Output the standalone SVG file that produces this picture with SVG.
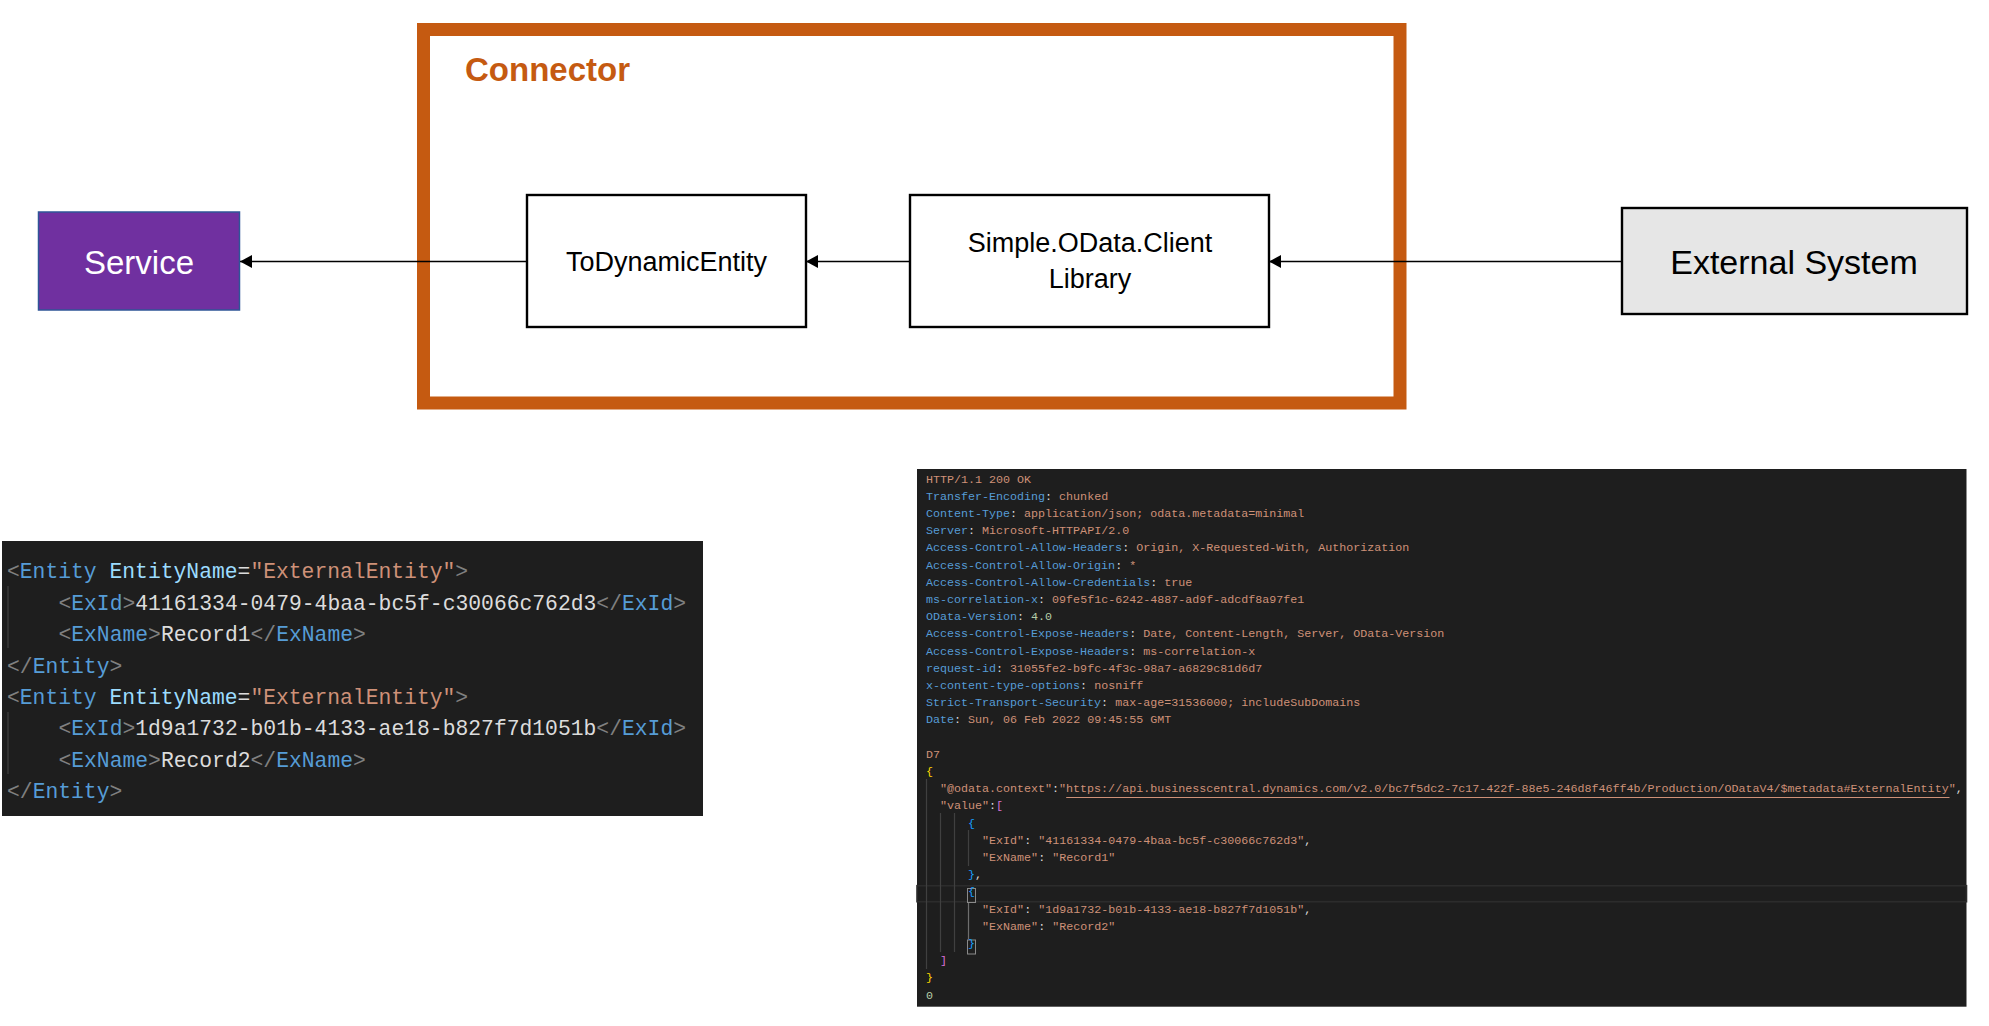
<svg xmlns="http://www.w3.org/2000/svg" width="1989" height="1026" viewBox="0 0 1989 1026">
<defs>
<marker id="ah" markerUnits="userSpaceOnUse" markerWidth="12" markerHeight="13" refX="12" refY="6.5" orient="auto">
<path d="M0,0 L12,6.5 L0,13 Z" fill="#000"/>
</marker>
<style>
.lbl{font-family:"Liberation Sans",Arial,sans-serif;text-anchor:middle;fill:#000}
.box{fill:#fff;stroke:#000;stroke-width:2.4}
.conn{stroke:#000;stroke-width:1.3;fill:none;marker-end:url(#ah)}
.code{font-family:"Liberation Mono","Courier New",monospace}
.x{font-size:21.35px}
.h{font-size:11.68px}
.g{fill:#808080}
.b{fill:#569CD6}
.lb{fill:#9CDCFE}
.w{fill:#DCDCDC}
.o{fill:#CE9178}
.n{fill:#B5CEA8}
.y1{fill:#FFD700}
.p1{fill:#DA70D6}
.c1{fill:#179FFF}
.guide{stroke:#404040;stroke-width:1.2}
</style>
</defs>
<rect width="1989" height="1026" fill="#fff"/>

<g id="connector">
<rect x="423.5" y="29.5" width="976.5" height="373.5" fill="none" stroke="#C55A11" stroke-width="13"/>
<text x="465" y="81" font-family="'Liberation Sans',Arial,sans-serif" font-weight="bold" font-size="33" fill="#C55A11">Connector</text>
</g>

<g id="service">
<rect x="38.5" y="212" width="201" height="98" fill="#7030A0" stroke="#2F5597" stroke-width="1.5"/>
<text class="lbl" x="139" y="274" font-size="33" style="fill:#fff">Service</text>
</g>

<g id="todynamicentity">
<rect class="box" x="527" y="195" width="279" height="132"/>
<text class="lbl" x="666.5" y="271" font-size="27">ToDynamicEntity</text>
</g>

<g id="simpleodata">
<rect class="box" x="910" y="195" width="359" height="132"/>
<text class="lbl" x="1090" y="252" font-size="27">Simple.OData.Client</text>
<text class="lbl" x="1090" y="288" font-size="27">Library</text>
</g>

<g id="external">
<rect x="1622" y="208" width="345" height="106" fill="#E6E6E6" stroke="#000" stroke-width="2.4"/>
<text class="lbl" x="1794" y="274" font-size="34">External System</text>
</g>

<g id="connectors">
<line class="conn" x1="527" y1="261.5" x2="240" y2="261.5"/>
<line class="conn" x1="910" y1="261.5" x2="806" y2="261.5"/>
<line class="conn" x1="1621" y1="261.5" x2="1269" y2="261.5"/>
</g>

<g id="xml-panel">
<rect x="2" y="541" width="701" height="275" fill="#1E1E1E"/>
<line class="guide" x1="8" y1="586" x2="8" y2="648"/>
<line class="guide" x1="8" y1="712" x2="8" y2="774"/>
<g class="code x">
<text x="7" y="578.3"><tspan class="g">&lt;</tspan><tspan class="b">Entity</tspan> <tspan class="lb">EntityName</tspan><tspan class="w">=</tspan><tspan class="o">"ExternalEntity"</tspan><tspan class="g">&gt;</tspan></text>
<text x="58.4" y="609.7"><tspan class="g">&lt;</tspan><tspan class="b">ExId</tspan><tspan class="g">&gt;</tspan><tspan class="w">41161334-0479-4baa-bc5f-c30066c762d3</tspan><tspan class="g">&lt;/</tspan><tspan class="b">ExId</tspan><tspan class="g">&gt;</tspan></text>
<text x="58.4" y="641.1"><tspan class="g">&lt;</tspan><tspan class="b">ExName</tspan><tspan class="g">&gt;</tspan><tspan class="w">Record1</tspan><tspan class="g">&lt;/</tspan><tspan class="b">ExName</tspan><tspan class="g">&gt;</tspan></text>
<text x="7" y="672.5"><tspan class="g">&lt;/</tspan><tspan class="b">Entity</tspan><tspan class="g">&gt;</tspan></text>
<text x="7" y="703.9"><tspan class="g">&lt;</tspan><tspan class="b">Entity</tspan> <tspan class="lb">EntityName</tspan><tspan class="w">=</tspan><tspan class="o">"ExternalEntity"</tspan><tspan class="g">&gt;</tspan></text>
<text x="58.4" y="735.3"><tspan class="g">&lt;</tspan><tspan class="b">ExId</tspan><tspan class="g">&gt;</tspan><tspan class="w">1d9a1732-b01b-4133-ae18-b827f7d1051b</tspan><tspan class="g">&lt;/</tspan><tspan class="b">ExId</tspan><tspan class="g">&gt;</tspan></text>
<text x="58.4" y="766.7"><tspan class="g">&lt;</tspan><tspan class="b">ExName</tspan><tspan class="g">&gt;</tspan><tspan class="w">Record2</tspan><tspan class="g">&lt;/</tspan><tspan class="b">ExName</tspan><tspan class="g">&gt;</tspan></text>
<text x="7" y="798.1"><tspan class="g">&lt;/</tspan><tspan class="b">Entity</tspan><tspan class="g">&gt;</tspan></text>
</g>
</g>

<g id="http-panel">
<rect x="917" y="469" width="1049.5" height="537.7" fill="#1E1E1E"/>
<rect x="917" y="885.7" width="1049.5" height="16" fill="#1E1E1E" stroke="#2C2C2C" stroke-width="1.6"/>
<line class="guide" x1="926.5" y1="779" x2="926.5" y2="969"/>
<line class="guide" x1="940.5" y1="813" x2="940.5" y2="952"/>
<line class="guide" x1="954.5" y1="813" x2="954.5" y2="952"/>
<line class="guide" x1="968.5" y1="830" x2="968.5" y2="866"/>
<line x1="968.5" y1="903" x2="968.5" y2="939" stroke="#6E6E6E" stroke-width="1.2"/>
<rect x="967.5" y="888.5" width="8" height="14" fill="none" stroke="#8A8A8A" stroke-width="1"/>
<rect x="967.5" y="940" width="8" height="14" fill="none" stroke="#8A8A8A" stroke-width="1"/>
<line x1="1066.2" y1="797.5" x2="1949.5" y2="797.5" stroke="#CE9178" stroke-width="1.2"/>
<g class="code h">
<text x="926" y="482.5" class="o">HTTP/1.1 200 OK</text>
<text x="926" y="499.7"><tspan class="b">Transfer-Encoding</tspan><tspan class="w">:</tspan> <tspan class="o">chunked</tspan></text>
<text x="926" y="516.9"><tspan class="b">Content-Type</tspan><tspan class="w">:</tspan> <tspan class="o">application/json; odata.metadata=minimal</tspan></text>
<text x="926" y="534.1"><tspan class="b">Server</tspan><tspan class="w">:</tspan> <tspan class="o">Microsoft-HTTPAPI/2.0</tspan></text>
<text x="926" y="551.3"><tspan class="b">Access-Control-Allow-Headers</tspan><tspan class="w">:</tspan> <tspan class="o">Origin, X-Requested-With, Authorization</tspan></text>
<text x="926" y="568.5"><tspan class="b">Access-Control-Allow-Origin</tspan><tspan class="w">:</tspan> <tspan class="o">*</tspan></text>
<text x="926" y="585.7"><tspan class="b">Access-Control-Allow-Credentials</tspan><tspan class="w">:</tspan> <tspan class="o">true</tspan></text>
<text x="926" y="602.9"><tspan class="b">ms-correlation-x</tspan><tspan class="w">:</tspan> <tspan class="o">09fe5f1c-6242-4887-ad9f-adcdf8a97fe1</tspan></text>
<text x="926" y="620.1"><tspan class="b">OData-Version</tspan><tspan class="w">:</tspan> <tspan class="n">4.0</tspan></text>
<text x="926" y="637.3"><tspan class="b">Access-Control-Expose-Headers</tspan><tspan class="w">:</tspan> <tspan class="o">Date, Content-Length, Server, OData-Version</tspan></text>
<text x="926" y="654.5"><tspan class="b">Access-Control-Expose-Headers</tspan><tspan class="w">:</tspan> <tspan class="o">ms-correlation-x</tspan></text>
<text x="926" y="671.7"><tspan class="b">request-id</tspan><tspan class="w">:</tspan> <tspan class="o">31055fe2-b9fc-4f3c-98a7-a6829c81d6d7</tspan></text>
<text x="926" y="688.9"><tspan class="b">x-content-type-options</tspan><tspan class="w">:</tspan> <tspan class="o">nosniff</tspan></text>
<text x="926" y="706.1"><tspan class="b">Strict-Transport-Security</tspan><tspan class="w">:</tspan> <tspan class="o">max-age=31536000; includeSubDomains</tspan></text>
<text x="926" y="723.3"><tspan class="b">Date</tspan><tspan class="w">:</tspan> <tspan class="o">Sun, 06 Feb 2022 09:45:55 GMT</tspan></text>
<text x="926" y="757.7" class="o">D7</text>
<text x="926" y="774.9" class="y1">{</text>
<text x="940" y="792.1"><tspan class="o">"@odata.context"</tspan><tspan class="w">:</tspan><tspan class="o">"https://api.businesscentral.dynamics.com/v2.0/bc7f5dc2-7c17-422f-88e5-246d8f46ff4b/Production/ODataV4/$metadata#ExternalEntity"</tspan><tspan class="w">,</tspan></text>
<text x="940" y="809.3"><tspan class="o">"value"</tspan><tspan class="w">:</tspan><tspan class="p1">[</tspan></text>
<text x="968.1" y="826.5" class="c1">{</text>
<text x="982.1" y="843.7"><tspan class="o">"ExId"</tspan><tspan class="w">:</tspan> <tspan class="o">"41161334-0479-4baa-bc5f-c30066c762d3"</tspan><tspan class="w">,</tspan></text>
<text x="982.1" y="860.9"><tspan class="o">"ExName"</tspan><tspan class="w">:</tspan> <tspan class="o">"Record1"</tspan></text>
<text x="968.1" y="878.1"><tspan class="c1">}</tspan><tspan class="w">,</tspan></text>
<text x="968.1" y="895.3" class="c1">{</text>
<text x="982.1" y="912.5"><tspan class="o">"ExId"</tspan><tspan class="w">:</tspan> <tspan class="o">"1d9a1732-b01b-4133-ae18-b827f7d1051b"</tspan><tspan class="w">,</tspan></text>
<text x="982.1" y="929.7"><tspan class="o">"ExName"</tspan><tspan class="w">:</tspan> <tspan class="o">"Record2"</tspan></text>
<text x="968.1" y="946.9" class="c1">}</text>
<text x="940" y="964.1" class="p1">]</text>
<text x="926" y="981.3" class="y1">}</text>
<text x="926" y="998.5" class="n">0</text>
</g>
</g>
</svg>
